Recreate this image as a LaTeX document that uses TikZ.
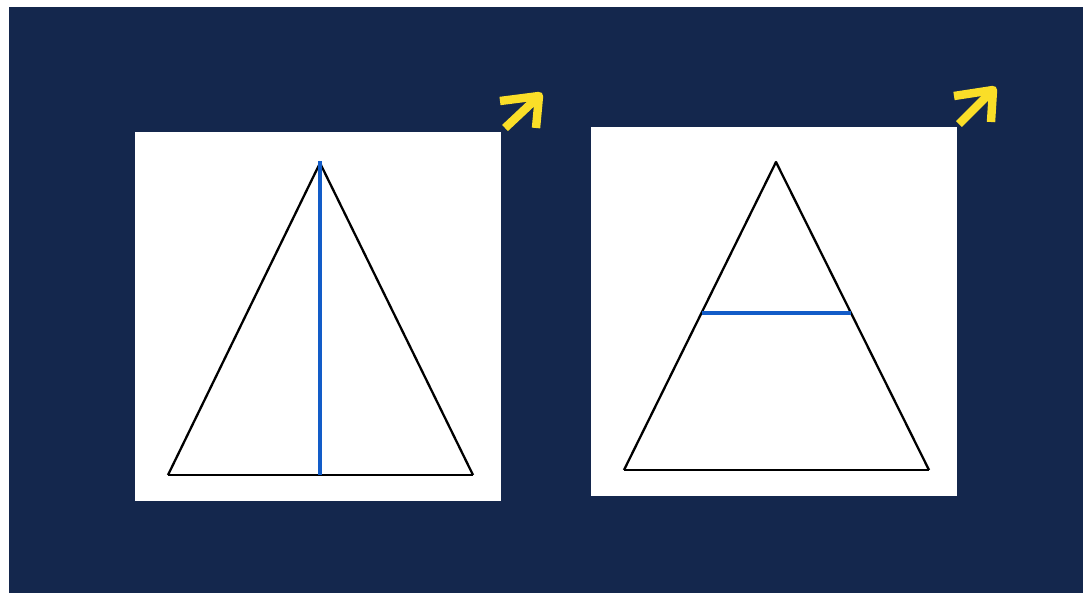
\documentclass[tikz,border=0pt]{standalone}
\usepackage{xcolor}
\usetikzlibrary{calc}
\definecolor{navy}{RGB}{20,39,77}
\definecolor{lineblue}{RGB}{18,92,200}
\definecolor{pointer}{RGB}{250,222,40}

\begin{document}
\begin{tikzpicture}[
  x=0.02cm, y=-0.02cm,
  panel/.style={fill=white, draw=none},
  edge/.style={draw=black, line width=1.3pt, line join=round},
  mark line/.style={draw=lineblue, line width=2.2pt},
  pointer arrow/.style={draw=pointer, line width=4.8pt, line join=round}
]
  \useasboundingbox (0,0) rectangle (1083,593);
  \fill[white] (0,0) rectangle (1083,593);
  \fill[navy] (9,7) rectangle (1083,593);
  % Left panel: triangle with its height
  \fill[panel] (135,132) rectangle (501,501);
  \coordinate (la) at (320,163);
  \coordinate (lb) at (168,475);
  \coordinate (lc) at (473,475);
  \coordinate (lh) at (320,475);
  \draw[edge] (lb) -- (la) -- (lc);
  \draw[edge, line width=1.5pt] (lb) -- (lc);
  \draw[mark line] (320,161) -- (lh);
  % Right panel: triangle with a midline
  \fill[panel] (591,127) rectangle (957,496);
  \coordinate (ra) at (776,162);
  \coordinate (rb) at (624,470);
  \coordinate (rc) at (929,470);
  \draw[edge] (rb) -- (ra) -- (rc);
  \draw[edge, line width=0.8pt] (rb) -- (rc);
  \draw[mark line] ($(ra)!0.49!(rb)$) -- ($(ra)!0.49!(rc)$);
  % Yellow pointers
  \draw[pointer arrow] (505,128) -- (537,98);
  \draw[pointer arrow] (500,101) -- (539,96) -- (536,128);
  \draw[pointer arrow] (959,124) -- (991,92);
  \draw[pointer arrow] (954,96) -- (993,90) -- (991,122);
\end{tikzpicture}
\end{document}
